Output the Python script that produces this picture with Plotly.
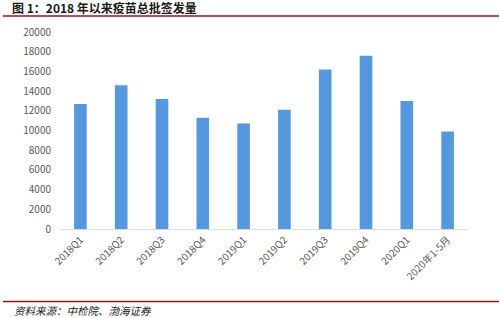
import plotly.graph_objects as go

categories = ["2018Q1", "2018Q2", "2018Q3", "2018Q4", "2019Q1", "2019Q2",
              "2019Q3", "2019Q4", "2020Q1", "2020年1-5月"]
values = [12700, 14600, 13200, 11300, 10700, 12100, 16200, 17600, 13000, 9900]
y_ticks = list(range(0, 20001, 2000))

W, H = 499, 318
L, R, T, B = 60, 31, 32, 89
PW, PH = W - L - R, H - T - B

def px_x(p):
    return (p - L) / PW

def px_y(p):
    return (H - B - p) / PH

FONT = "Noto Sans CJK SC"
fig = go.Figure(go.Bar(
    x=categories, y=values,
    marker=dict(color="#5598DE", line=dict(width=0)),
    width=0.31,
))

fig.update_layout(
    width=W, height=H,
    margin=dict(l=L, r=R, t=T, b=B, pad=0),
    paper_bgcolor="white", plot_bgcolor="white",
    showlegend=False,
    font=dict(family=FONT, size=10, color="#595959"),
    xaxis=dict(
        showline=True, linecolor="#D3DFEA", linewidth=1,
        showgrid=False, zeroline=False, ticks="",
        tickangle=-45, tickfont=dict(family=FONT, size=10, color="#595959"),
    ),
    yaxis=dict(
        range=[0, 20000], tickvals=y_ticks, ticktext=[str(v) for v in y_ticks],
        showgrid=False, zeroline=False, showline=False, ticks="",
        ticklabelstandoff=8,
        tickfont=dict(family=FONT, size=10, color="#595959"),
    ),
    shapes=[
        dict(type="line", xref="paper", yref="paper",
             x0=px_x(3), x1=px_x(499), y0=px_y(16), y1=px_y(16),
             line=dict(color="#8B1A1A", width=1.5)),
        dict(type="line", xref="paper", yref="paper",
             x0=px_x(3), x1=px_x(499), y0=px_y(301.5), y1=px_y(301.5),
             line=dict(color="#8B1A1A", width=1.5)),
    ],
    annotations=[
        dict(text="<b>图 1：2018 年以来疫苗总批签发量</b>", xref="paper", yref="paper",
             x=px_x(10), y=px_y(7.5), xanchor="left", yanchor="middle",
             showarrow=False, font=dict(family=FONT, size=12, color="#1a1a1a")),
        dict(text="<i>资料来源：中检院、渤海证券</i>", xref="paper", yref="paper",
             x=px_x(12), y=px_y(310.5), xanchor="left", yanchor="middle",
             showarrow=False, font=dict(family=FONT, size=10.5, color="#1a1a1a")),
    ],
)

fig.write_html("out.html")
